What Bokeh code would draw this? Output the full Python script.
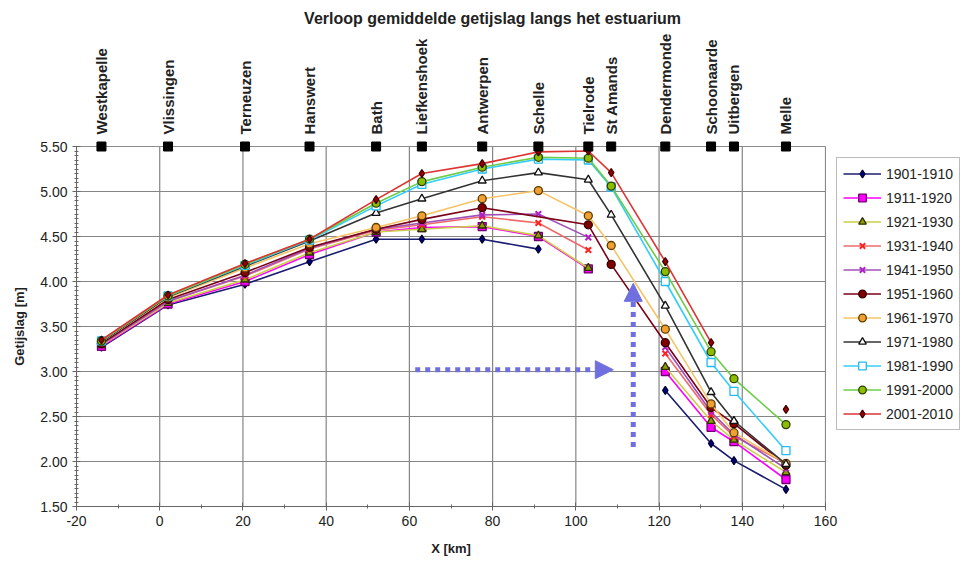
import math
from bokeh.plotting import figure
from bokeh.layouts import column
from bokeh.models import (ColumnDataSource, Legend, LegendItem, FixedTicker,
                          NumeralTickFormatter, Arrow, NormalHead, Range1d)
from bokeh.embed import file_html
from bokeh.resources import INLINE
from bokeh.core.properties import value

# ---------------- data ----------------
stations = ["Westkapelle", "Vlissingen", "Terneuzen", "Hanswert", "Bath", "Liefkenshoek",
            "Antwerpen", "Schelle", "Tielrode", "St Amands", "Dendermonde", "Schoonaarde",
            "Uitbergen", "Melle"]
station_km = [-14, 2, 20.5, 36, 52, 63, 77.5, 91, 103, 108.5, 121.5, 132.5, 138, 150.5]

periods = ["1901-1910", "1911-1920", "1921-1930", "1931-1940", "1941-1950", "1951-1960",
           "1961-1970", "1971-1980", "1981-1990", "1991-2000", "2001-2010"]

NA = float("nan")
v1901 = [3.27, 3.74, 3.97, 4.22, 4.47, 4.47, 4.47, 4.36, NA, NA, 2.79, 2.20, 2.01, 1.69]
v1911 = [3.28, 3.75, 4.00, 4.30, 4.55, 4.60, 4.61, 4.50, 4.14, NA, 3.00, 2.38, 2.22, 1.80]
v1921 = [3.29, 3.76, 4.02, 4.32, 4.55, 4.58, 4.62, 4.51, 4.15, NA, 3.05, 2.45, 2.24, 1.88]
v1931 = [3.30, 3.78, 4.06, 4.36, 4.57, 4.63, 4.72, 4.65, 4.35, NA, 3.20, 2.52, 2.28, 1.98]
v1941 = [3.30, 3.78, 4.07, 4.37, 4.58, 4.65, 4.74, 4.75, 4.49, NA, 3.27, 2.55, 2.30, 1.92]
v1951 = [3.31, 3.80, 4.10, 4.38, 4.58, 4.69, 4.82, NA, 4.63, 4.19, 3.32, 2.60, 2.42, 1.96]
v1961 = [3.33, 3.82, 4.15, 4.42, 4.60, 4.73, 4.92, 5.01, 4.73, 4.40, 3.47, 2.64, 2.32, 1.98]
v1971 = [3.33, 3.83, 4.17, 4.45, 4.76, 4.92, 5.12, 5.21, 5.13, 4.74, 3.73, 2.77, 2.45, 1.97]
v1981 = [3.34, 3.84, 4.18, 4.46, 4.84, 5.08, 5.25, 5.36, 5.35, 5.05, 4.00, 3.10, 2.78, 2.12]
v1991 = [3.34, 3.84, 4.19, 4.47, 4.87, 5.11, 5.27, 5.38, 5.37, 5.06, 4.11, 3.22, 2.92, 2.41]
v2001 = [3.35, 3.85, 4.20, 4.47, 4.91, 5.20, 5.31, 5.44, 5.45, 5.21, 4.22, 3.32, NA, 2.58]

series = [v1901, v1911, v1921, v1931, v1941, v1951, v1961, v1971, v1981, v1991, v2001]
# series whose line bridges a missing station (as in the reference)
bridge_gaps = [False, False, False, False, False, True, False, False, False, False, False]

# styles: (line colour, marker, marker fill, marker outline)
styles = [
    ("#1c1c70", "diamond", "#000080", "#000030"),
    ("#ff00ff", "square", "#ff00ff", "#700070"),
    ("#cbcf45", "triangle", "#8e9e00", "#303000"),
    ("#ee6a6a", "x", "#ff2020", "#ff2020"),
    ("#a050b8", "x", "#b020c8", "#b020c8"),
    ("#7a0018", "circle", "#800000", "#300000"),
    ("#f5c466", "circle", "#f0a030", "#5a3c00"),
    ("#333333", "triangle", "#ffffff", "#111111"),
    ("#33ccff", "square", "#ffffff", "#22bbee"),
    ("#6ccc44", "circle", "#8cbc00", "#2c4000"),
    ("#dd3333", "diamond", "#990000", "#400000"),
]

FONT = "Liberation Sans"
LEFT = 76
RIGHT = 144
FRAME_W = 749
TOP_H = 140
X_TICKS = list(range(-20, 161, 20))
Y_TICKS = [1.5 + 0.5 * i for i in range(9)]

x_range = Range1d(-20, 160)

# ---------- top strip: title and station names ----------
t = figure(frame_width=FRAME_W, frame_height=TOP_H, x_range=x_range, y_range=Range1d(0, 1),
           output_backend="svg", toolbar_location=None, x_axis_type=None, y_axis_type=None,
           min_border_left=LEFT, min_border_right=RIGHT, min_border_top=0, min_border_bottom=0)
t.title.text = ""
t.outline_line_color = None
st_src = ColumnDataSource(dict(x=station_km, y=[0] * len(stations), text=stations))
t.text("x", "y", text="text", source=st_src, angle=math.pi / 2, y_offset=-6,
       text_align="left", text_baseline="middle", text_font=value(FONT),
       text_font_size="15px", text_font_style="bold", text_color="#222222")
t.text(x=[80], y=[0], text=["Verloop gemiddelde getijslag langs het estuarium"], y_offset=-122,
       text_align="center", text_baseline="middle", text_font=value(FONT),
       text_font_size="16px", text_font_style="bold", text_color="#222222")

# ---------- main chart ----------
p = figure(frame_width=FRAME_W, frame_height=360, x_range=x_range, y_range=Range1d(1.5, 5.5),
           output_backend="svg", toolbar_location=None,
           min_border_left=LEFT, min_border_right=0, min_border_top=6, min_border_bottom=57)
p.title.text = ""
p.outline_line_color = "#8c8c8c"
p.background_fill_color = "white"

p.xaxis.ticker = FixedTicker(ticks=X_TICKS, minor_ticks=list(range(-20, 161, 10)))
p.yaxis.ticker = FixedTicker(ticks=Y_TICKS,
                             minor_ticks=[round(1.5 + 0.05 * i, 2) for i in range(81)])
p.yaxis.formatter = NumeralTickFormatter(format="0.00")
p.xaxis.formatter = NumeralTickFormatter(format="0")
for ax in (p.xaxis, p.yaxis):
    ax.major_label_text_font = FONT
    ax.major_label_text_font_size = "14px"
    ax.major_label_text_color = "#222222"
    ax.axis_label_text_font = FONT
    ax.axis_label_text_font_size = "13px"
    ax.axis_label_text_font_style = "bold"
    ax.axis_label_text_color = "#222222"
    ax.axis_line_color = "#666666"
    ax.major_tick_line_color = "#666666"
    ax.minor_tick_line_color = "#666666"
    ax.major_tick_in = 4
    ax.major_tick_out = 4
    ax.minor_tick_in = 2
    ax.minor_tick_out = 2
p.xaxis.axis_label = "X [km]"
p.yaxis.axis_label = "Getijslag [m]"
p.xaxis.axis_label_standoff = 12
p.yaxis.axis_label_standoff = 10

# horizontal grid from the library; vertical grid drawn as frame-clipped segments
p.xgrid.visible = False
p.ygrid.grid_line_color = "#858585"
p.ygrid.grid_line_width = 1.2
p.segment(x0=X_TICKS, y0=[1.5] * len(X_TICKS), x1=X_TICKS, y1=[5.5] * len(X_TICKS),
          line_color="#858585", line_width=1.2)

items = []
for name, vals, bridge, (lc, mk, fc, oc) in zip(periods, series, bridge_gaps, styles):
    if bridge:
        lx = [k for k, v in zip(station_km, vals) if v == v]
        ly = [v for v in vals if v == v]
    else:
        lx, ly = station_km, vals
    r1 = p.line(lx, ly, line_color=lc, line_width=1.6)
    r2 = p.scatter(station_km, vals, marker=mk, size=8,
                   fill_color=fc, line_color=oc, line_width=1.3 if mk != "x" else 2)
    items.append(LegendItem(label=name, renderers=[r1, r2]))

# station markers on the top edge (overlay level: not cut by the frame)
p.scatter(station_km, [5.5] * len(stations), marker="square", size=9, color="black",
          level="overlay")

ac = "#6f6fe0"
p.add_layout(Arrow(end=NormalHead(size=18, fill_color=ac, line_color=ac), x_start=61.4, y_start=3.02,
                   x_end=109, y_end=3.02, line_color=ac, line_width=5, line_dash="5 5"))
p.add_layout(Arrow(end=NormalHead(size=18, fill_color=ac, line_color=ac), x_start=113.8, y_start=2.16,
                   x_end=113.8, y_end=3.98, line_color=ac, line_width=5, line_dash="5 5"))

legend = Legend(items=items, location="top_left", border_line_color="#777777", border_line_width=1,
                label_text_font=FONT, label_text_font_size="14px", label_text_color="#222222",
                glyph_width=38, glyph_height=19, label_height=19, label_width=60, spacing=5,
                padding=6, label_standoff=5, margin=11, background_fill_alpha=1)
p.add_layout(legend, "right")

layout = column(t, p, spacing=0)
open("out.html", "w").write(file_html(layout, INLINE))
